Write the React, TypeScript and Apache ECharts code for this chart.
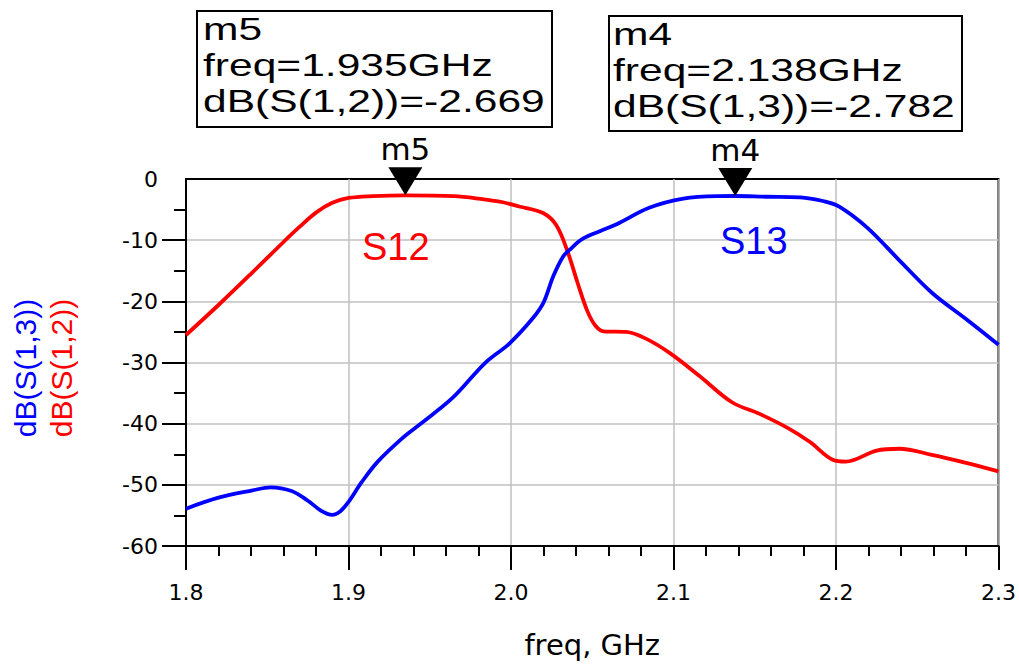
import React, { useEffect, useRef } from "react";
import * as echarts from "echarts";

// ---- data ----
const freqS12 = [1.8, 1.82, 1.84, 1.86, 1.87, 1.88, 1.89, 1.9, 1.915, 1.935, 1.965, 1.98, 1.995, 2.005, 2.02, 2.028, 2.035, 2.041, 2.047, 2.052, 2.057, 2.071, 2.083, 2.098, 2.116, 2.136, 2.153, 2.171, 2.184, 2.198, 2.206, 2.225, 2.239, 2.259, 2.28, 2.3];
const dbS12 = [-25.5, -20.6, -15.5, -10.3, -7.8, -5.5, -3.9, -3.1, -2.8, -2.669, -2.8, -3.2, -3.8, -4.5, -5.6, -7.6, -12.0, -17.0, -21.6, -24.0, -24.9, -25.0, -26.1, -28.5, -32.2, -36.5, -38.4, -40.8, -43.0, -45.9, -46.2, -44.4, -44.1, -45.1, -46.4, -47.8];

const freqS13 = [1.8, 1.82, 1.841, 1.852, 1.865, 1.875, 1.883, 1.89, 1.895, 1.9, 1.908, 1.918, 1.933, 1.943, 1.964, 1.984, 1.999, 2.013, 2.02, 2.026, 2.032, 2.036, 2.044, 2.055, 2.065, 2.085, 2.106, 2.127, 2.138, 2.157, 2.178, 2.192, 2.202, 2.219, 2.239, 2.259, 2.28, 2.3];
const dbS13 = [-53.9, -52.1, -50.9, -50.4, -51.0, -52.6, -54.2, -54.9, -54.3, -52.8, -49.6, -46.2, -42.4, -40.3, -35.8, -30.1, -26.9, -22.9, -20.2, -15.9, -12.7, -11.6, -9.8, -8.5, -7.4, -4.7, -3.2, -2.8, -2.782, -2.9, -3.0, -3.6, -4.5, -7.9, -13.3, -18.6, -22.9, -27.1];

const xMin = 1.8;
const xMax = 2.3;
const xStep = 0.1;
const yMin = -60;
const yMax = 0;
const yStep = 10;
const yTickValues = [-60, -50, -40, -30, -20, -10];

const m5 = { name: "m5", freq: 1.935, value: -2.669, param: "dB(S(1,2))" };
const m4 = { name: "m4", freq: 2.138, value: -2.782, param: "dB(S(1,3))" };

const RED = "#ff0000";
const BLUE = "#0000ff";

function markerText(m: { name: string; freq: number; value: number; param: string }) {
  return `${m.name}\nfreq=${m.freq.toFixed(3)}GHz\n${m.param}=${m.value.toFixed(3)}`;
}

function markPointFor(m: { name: string; freq: number; value: number }) {
  return {
    symbol: "path://M0,0L34,0L17,28Z",
    symbolSize: [34, 28],
    symbolOffset: [0, "-50%"],
    itemStyle: { color: "#000" },
    label: {
      show: true,
      position: "top",
      distance: 3,
      formatter: m.name,
      color: "#000",
      fontSize: 31,
      fontFamily: "DejaVu Sans",
    },
    data: [{ coord: [m.freq, m.value], name: m.name }],
  };
}

export default function App() {
  const ref = useRef<HTMLDivElement>(null);

  useEffect(() => {
    if (!ref.current) return;
    const chart = echarts.init(ref.current, undefined, { renderer: "svg" });
    const tickFont = { fontFamily: "DejaVu Sans", fontSize: 22, color: "#000" };
    const boxFont = "32px 'Liberation Sans', Arial, sans-serif";

    chart.setOption({
      animation: false,
      backgroundColor: "#fff",
      grid: {
        left: 186,
        width: 813,
        top: 179,
        height: 374,
        show: true,
        borderColor: "#000",
        borderWidth: 2,
        backgroundColor: "transparent",
      },
      xAxis: {
        type: "value",
        min: xMin,
        max: xMax,
        interval: xStep,
        name: "freq, GHz",
        nameLocation: "middle",
        nameGap: 84,
        nameTextStyle: { fontFamily: "DejaVu Sans", fontSize: 29, color: "#000", verticalAlign: "top" },
        axisLine: { show: true, onZero: false, lineStyle: { color: "#000", width: 2 } },
        axisTick: { show: true, inside: false, length: 24, lineStyle: { color: "#000", width: 2 } },
        minorTick: { show: true, splitNumber: 5, length: 10, lineStyle: { color: "#000", width: 2 } },
        axisLabel: { ...tickFont, margin: 35, formatter: (v: number) => v.toFixed(1) },
        splitLine: { show: true, lineStyle: { color: "#c0c0c0", width: 1.5 } },
      },
      yAxis: {
        type: "value",
        min: yMin,
        max: yMax,
        interval: yStep,
        axisLine: { show: true, onZero: false, lineStyle: { color: "#000", width: 2 } },
        axisTick: { show: true, inside: false, length: 24, customValues: yTickValues, lineStyle: { color: "#000", width: 2 } },
        minorTick: { show: true, splitNumber: 2, length: 12, lineStyle: { color: "#000", width: 2 } },
        axisLabel: { ...tickFont, margin: 28, formatter: (v: number) => String(v) },
        splitLine: { show: true, lineStyle: { color: "#c0c0c0", width: 1.5 } },
      },
      series: [
        {
          name: "dB(S(1,3))",
          type: "line",
          data: freqS13.map((f, i) => [f, dbS13[i]]),
          showSymbol: false,
          smooth: 0.35,
          lineStyle: { color: BLUE, width: 3.8 },
          itemStyle: { color: BLUE },
          markPoint: markPointFor(m4),
          z: 3,
        },
        {
          name: "dB(S(1,2))",
          type: "line",
          data: freqS12.map((f, i) => [f, dbS12[i]]),
          showSymbol: false,
          smooth: 0.35,
          lineStyle: { color: RED, width: 3.8 },
          itemStyle: { color: RED },
          markPoint: markPointFor(m5),
          z: 2,
        },
      ],
      graphic: [
        {
          type: "rect",
          shape: { x: 197, y: 11, width: 355, height: 116 },
          style: { fill: "#fff", stroke: "#000", lineWidth: 2 },
        },
        {
          type: "text",
          x: 203,
          y: 11,
          scaleX: 1.33,
          style: { text: markerText(m5), font: boxFont, fill: "#000", lineHeight: 36, verticalAlign: "top", align: "left" },
        },
        {
          type: "rect",
          shape: { x: 609, y: 16, width: 353, height: 115 },
          style: { fill: "#fff", stroke: "#000", lineWidth: 2 },
        },
        {
          type: "text",
          x: 613,
          y: 16,
          scaleX: 1.33,
          style: { text: markerText(m4), font: boxFont, fill: "#000", lineHeight: 36, verticalAlign: "top", align: "left" },
        },
        {
          type: "text",
          x: 362,
          y: 247,
          style: { text: "S12", font: "38px 'Liberation Sans', Arial, sans-serif", fill: RED, verticalAlign: "middle", align: "left" },
          z: 10,
        },
        {
          type: "text",
          x: 720,
          y: 241,
          style: { text: "S13", font: "38px 'Liberation Sans', Arial, sans-serif", fill: BLUE, verticalAlign: "middle", align: "left" },
          z: 10,
        },
        {
          type: "text",
          x: 25,
          y: 368,
          rotation: Math.PI / 2,
          style: { text: "dB(S(1,3))", font: "30px 'Liberation Sans', Arial, sans-serif", fill: BLUE, verticalAlign: "middle", align: "center" },
        },
        {
          type: "text",
          x: 61,
          y: 368,
          rotation: Math.PI / 2,
          style: { text: "dB(S(1,2))", font: "30px 'Liberation Sans', Arial, sans-serif", fill: RED, verticalAlign: "middle", align: "center" },
        },
      ],
    });

    return () => chart.dispose();
  }, []);

  return (
    <div
      ref={ref}
      style={{ position: "fixed", left: 0, top: 0, width: 1019, height: 664, background: "#fff" }}
    />
  );
}
